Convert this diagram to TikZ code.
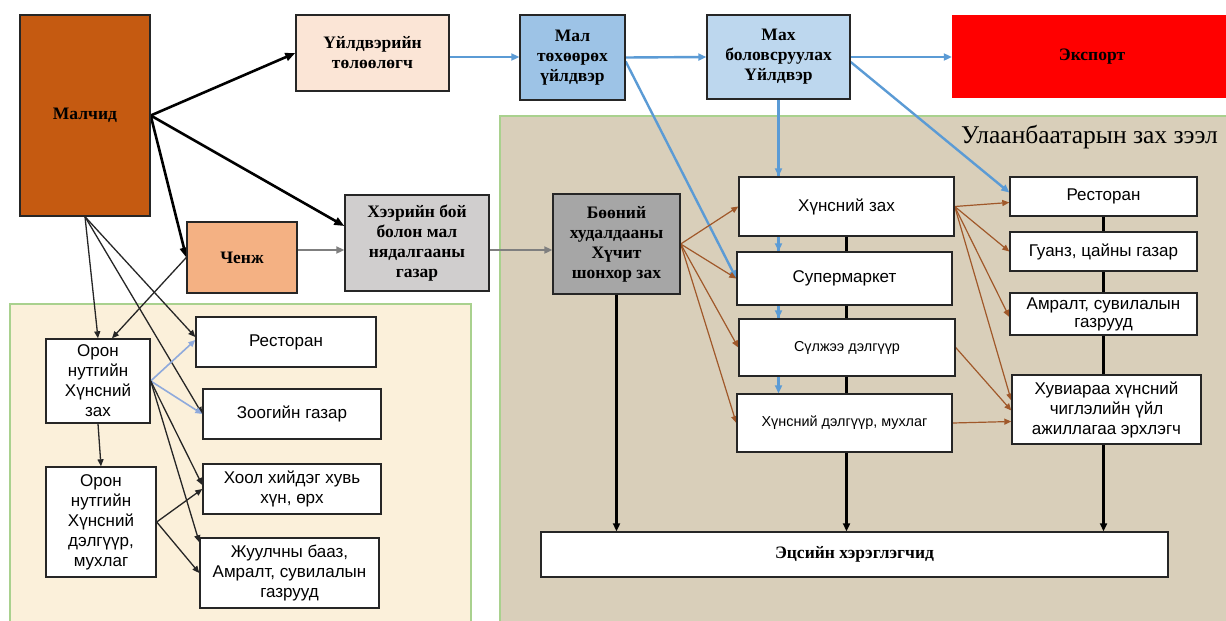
\documentclass[tikz,border=0pt]{standalone}
\usepackage{fontspec}
\setmainfont{Liberation Serif}
\newfontfamily\arial{Liberation Sans}
\usetikzlibrary{arrows.meta,calc}
\definecolor{malchidc}{HTML}{C55A11}
\definecolor{uildc}{HTML}{FBE5D6}
\definecolor{malc}{HTML}{9DC3E6}
\definecolor{makhc}{HTML}{BDD7EE}
\definecolor{chenjc}{HTML}{F4B183}
\definecolor{kheerc}{HTML}{D0CECE}
\definecolor{buunic}{HTML}{A6A6A6}
\definecolor{bluec}{HTML}{5B9BD5}
\definecolor{lbluec}{HTML}{8FAADC}
\definecolor{brownc}{HTML}{A0582A}
\definecolor{grayc}{HTML}{7F7F7F}
\definecolor{boxline}{HTML}{262626}
\definecolor{ubbg}{HTML}{D9CFBA}
\definecolor{leftbg}{HTML}{FBF0DA}
\definecolor{regline}{HTML}{A9D18E}
\pgfdeclarelayer{back}
\pgfdeclarelayer{bg}
\pgfsetlayers{back,bg,main}
\begin{document}
\begin{tikzpicture}[x=1pt,y=-1pt,
  box/.style 2 args={draw=boxline,line width=1.4pt,inner sep=0pt,align=center,
    minimum width=#1pt,minimum height=#2pt,fill=white},
  serb/.style={font=\fontsize{17.5}{20}\selectfont\bfseries},
  sans/.style={font=\arial\fontsize{17}{20}\selectfont},
  sanss/.style={font=\arial\fontsize{14.4}{16}\selectfont},
  blk/.style={line width=2.6pt,-{Triangle[length=10pt,width=8pt]}},
  blu/.style={draw=bluec,line width=2.4pt,-{Triangle[length=8pt,width=7pt]}},
  gra/.style={draw=grayc,line width=2.2pt,-{Triangle[length=8pt,width=7pt]}},
  brn/.style={draw=brownc,line width=1.2pt,-{Triangle[length=7pt,width=6pt]}},
  thn/.style={draw=black!85,line width=1.3pt,-{Triangle[length=7pt,width=6pt]}},
  lbl/.style={draw=lbluec,line width=1.6pt,-{Triangle[length=7pt,width=6pt]}},
  vln/.style={draw=black,line width=2.4pt,-{Triangle[length=8pt,width=7pt]}}]
\useasboundingbox (0,0) rectangle (1226,621);

% regions
\begin{pgfonlayer}{back}
\fill[white] (0,0) rectangle (1226,621);
\filldraw[fill=leftbg,draw=regline,line width=1.5pt] (10,304) rectangle (471,640);
\filldraw[fill=ubbg,draw=regline,line width=2pt] (500,116) rectangle (1250,640);
\end{pgfonlayer}
\node[anchor=west,font=\fontsize{25.5}{28}\selectfont,inner sep=0pt] (title) at (961,137) {Улаанбаатарын зах зээл};

% top boxes
\node[box={130}{201},fill=malchidc,serb] (malchid) at (85,115.5) {Малчид};
\node[box={153}{76},fill=uildc,serb] (uild) at (372.5,53) {Үйлдвэрийн\\төлөөлөгч};
\node[box={105}{85},fill=malc,serb] (mal) at (572.5,57.5) {Мал\\төхөөрөх\\үйлдвэр};
\node[box={143}{84},fill=makhc,serb] (makh) at (778.5,57) {Мах\\боловсруулах\\Үйлдвэр};
\node[inner sep=0pt,minimum width=280pt,minimum height=83pt,fill=red,serb] (export) at (1092,56.5) {Экспорт};
\node[box={110}{71},fill=chenjc,serb] (chenj) at (242,257.5) {Ченж};
\node[box={144}{96},fill=kheerc,serb] (kheer) at (417,243) {Хээрийн бой\\болон мал\\нядалгааны\\газар};
\node[box={127}{100},fill=buunic,serb] (buuni) at (616.5,244) {Бөөний\\худалдааны\\Хүчит\\шонхор зах};

% UB market boxes
\node[box={215}{59},sans] (khzakh) at (846.5,206.5) {Хүнсний зах};
\node[box={215}{53},sans] (super) at (844.5,278.5) {Супермаркет};
\node[box={216}{57},sanss] (sulj) at (847,347.5) {Сүлжээ дэлгүүр};
\node[box={215}{58},sanss] (khdelg) at (844.5,423) {Хүнсний дэлгүүр, мухлаг};
\node[box={187}{39},sans] (rrest) at (1103.5,196.5) {Ресторан};
\node[box={187}{39},sans] (guanz) at (1103.5,251.5) {Гуанз, цайны газар};
\node[box={187}{42},sans,font=\arial\fontsize{17}{18}\selectfont] (amralt) at (1103.5,314) {Амралт, сувилалын\\газрууд};
\node[box={189}{69},sans] (khuv) at (1106.5,409.5) {Хувиараа хүнсний\\чиглэлийн үйл\\ажиллагаа эрхлэгч};
\node[box={627}{45},serb] (ets) at (854.5,554.5) {Эцсийн хэрэглэгчид};

% local boxes
\node[box={104}{84},sans] (oron1) at (98,381) {Орон\\нутгийн\\Хүнсний\\зах};
\node[box={110}{110},sans] (oron2) at (101,522) {Орон\\нутгийн\\Хүнсний\\дэлгүүр,\\мухлаг};
\node[box={180}{50},sans] (lrest) at (286,342) {Ресторан};
\node[box={178}{50},sans] (zoog) at (292,414) {Зоогийн газар};
\node[box={178}{50},sans] (khool) at (292,489) {Хоол хийдэг  хувь\\хүн, өрх};
\node[box={179}{70},sans] (juulch) at (289.5,573) {Жуулчны бааз,\\Амралт, сувилалын\\газрууд};

\begin{pgfonlayer}{bg}
% black thick from Malchid
\draw[blk] (malchid.east) -- (uild.west);
\draw[blk] (malchid.east) -- ([yshift=17pt]kheer.west);
\draw[blk] (malchid.east) -- (chenj.west);
% blue
\draw[blu] (uild.east |- 0,57) -- (mal.west |- 0,57);
\draw[blu] (mal.east) -- (makh.west);
\draw[blu] (makh.east) -- (export.west |- makh.east);
\draw[blu] ([yshift=-4pt]mal.east) -- (super.west);
\draw[blu] ([yshift=-5pt]makh.east) -- ([yshift=4pt]rrest.west);
\foreach \t in {khzakh,super,sulj,khdelg}
  \draw[blu] (makh.south) -- (makh.south |- \t.north);
% gray
\draw[gra] (chenj.east |- 0,250) -- (kheer.west |- 0,250);
\draw[gra] (kheer.east |- 0,250) -- (buuni.west |- 0,250);
% brown
\foreach \t in {khzakh,super,sulj,khdelg}
  \draw[brn] (buuni.east) -- (\t.west);
\draw[brn] (khzakh.east) -- ([yshift=-6pt]rrest.west);
\draw[brn] (khzakh.east) -- (guanz.west);
\draw[brn] (khzakh.east) -- ([yshift=-3pt]amralt.west);
\draw[brn] (khzakh.east) -- ([yshift=9pt]khuv.west);
\draw[brn] (sulj.east) -- ([yshift=-1pt]khuv.west);
\draw[brn] (khdelg.east) -- ([yshift=-12pt]khuv.west);
% verticals to end consumers
\draw[vln] (buuni.south) -- (buuni.south |- ets.north);
\draw[vln] (khzakh.south) -- (khzakh.south |- ets.north);
\draw[vln] (rrest.south) -- (rrest.south |- ets.north);
% local
\draw[thn] (malchid.south) -- (oron1.north);
\draw[thn] (malchid.south) -- ([yshift=5pt]lrest.west);
\draw[thn] (malchid.south) -- (zoog.west);
\draw[thn] (chenj.west) -- ([xshift=14pt]oron1.north);
\draw[lbl] (oron1.east) -- ([yshift=2pt]lrest.west);
\draw[lbl] (oron1.east) -- (zoog.west);
\draw[thn] (oron1.east) -- ([yshift=4pt]khool.west);
\draw[thn] (oron1.east) -- ([yshift=-5pt]juulch.north west);
\draw[thn] (oron2.east) -- (khool.west);
\draw[thn] (oron2.east) -- (juulch.west);
\draw[thn] (oron1.south) -- (oron2.north);
\end{pgfonlayer}
\end{tikzpicture}
\end{document}
